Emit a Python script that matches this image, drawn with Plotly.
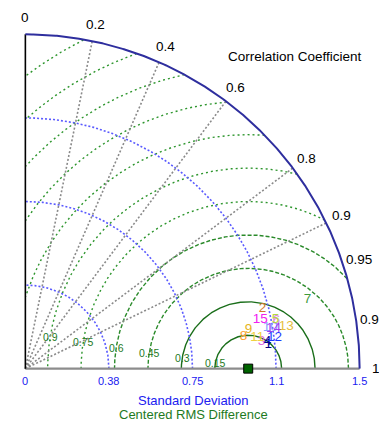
import numpy as np
import plotly.graph_objects as go

# ---------------- data ----------------
corr_ticks = [0, 0.2, 0.4, 0.6, 0.8, 0.9, 0.95, 0.99, 1]
corr_labels = ["0", "0.2", "0.4", "0.6", "0.8", "0.9", "0.95", "0.99", "1"]
corr_lines = [0.2, 0.4, 0.6, 0.8, 0.9]
std_ticks = [0, 0.375, 0.75, 1.125, 1.5]
std_labels = ["0", "0.38", "0.75", "1.1", "1.5"]
std_arcs = [0.375, 0.75, 1.125]
std_max = 1.5
rms_levels = [0.15, 0.3, 0.45, 0.6, 0.75, 0.9, 1.05, 1.2, 1.35, 1.5, 1.65, 1.8]
rms_labels = ["0.15", "0.3", "0.45", "0.6", "0.75", "0.9"]
ref_std = 1.0

model_names = ["1", "6", "10", "2", "3", "4", "5", "7", "8", "9", "11", "12", "13", "14", "15"]
model_std = [1.096, 1.147, 1.115, 1.098, 1.066, 1.093, 1.144, 1.303, 0.989, 1.016, 1.050, 1.126, 1.186, 1.128, 1.077]
model_corr = [0.995, 0.982, 0.986, 0.969, 0.9937, 0.994, 0.981, 0.9717, 0.9897, 0.9854, 0.9914, 0.9925, 0.9875, 0.987, 0.979]
model_colors = ["#000080", "#E080E0", "#8CA0FF", "#D2782D", "#E066E0", "#000099", "#B4D83C",
                "#3C9A3C", "#FFA030", "#E6B422", "#F0D040", "#1E3CFF", "#E6C040", "#A040F0", "#F020F0"]

FONT = "Liberation Sans, Arial, sans-serif"
XR = [-0.06, 1.56]
YR = [-0.06, 1.56]


def px(v):
    return (v - XR[0]) / (XR[1] - XR[0])


def py(v):
    return (v - YR[0]) / (YR[1] - YR[0])


fig = go.Figure()

# ---------------- RMS circles ----------------
th = np.linspace(0, np.pi, 1441)
for i, r in enumerate(rms_levels):
    x = ref_std + r * np.cos(th)
    y = r * np.sin(th)
    ok = (x >= 0) & (x ** 2 + y ** 2 <= std_max ** 2)
    xs = [float(a) if k else None for a, k in zip(x, ok)]
    ys = [float(b) if k else None for b, k in zip(y, ok)]
    if i < 2:
        dash, col = "solid", "#1A6E1A"
    elif i < 4:
        dash, col = "4px,2px", "#2A8A2A"
    else:
        dash, col = "2px,3px", "#2E962E"
    fig.add_trace(go.Scatter(x=xs, y=ys, mode="lines", line=dict(color=col, width=1.4, dash=dash),
                             hoverinfo="skip", showlegend=False))

# ---------------- std arcs ----------------
ta = np.linspace(0, np.pi / 2, 400)
for r in std_arcs:
    fig.add_trace(go.Scatter(x=r * np.cos(ta), y=r * np.sin(ta), mode="lines",
                             line=dict(color="#5A5AFF", width=1.6, dash="2px,2px"),
                             hoverinfo="skip", showlegend=False))

# ---------------- correlation rays ----------------
for c in corr_lines:
    a = np.arccos(c)
    fig.add_trace(go.Scatter(x=[0, std_max * np.cos(a)], y=[0, std_max * np.sin(a)], mode="lines",
                             line=dict(color="#8A8A8A", width=1.6, dash="2px,2px"),
                             hoverinfo="skip", showlegend=False))

# ---------------- axes ----------------
fig.add_trace(go.Scatter(x=[0, std_max], y=[0, 0], mode="lines", line=dict(color="#8C8C8C", width=2.2),
                         hoverinfo="skip", showlegend=False))
fig.add_trace(go.Scatter(x=[0, 0], y=[0, std_max], mode="lines", line=dict(color="#000000", width=1.6),
                         hoverinfo="skip", showlegend=False))
fig.add_trace(go.Scatter(x=std_max * np.cos(ta), y=std_max * np.sin(ta), mode="lines",
                         line=dict(color="#2E2E9E", width=2.0), hoverinfo="skip", showlegend=False))

# ---------------- reference point ----------------
fig.add_trace(go.Scatter(x=[ref_std], y=[0], mode="markers",
                         marker=dict(symbol="square", size=9, color="#006400", line=dict(color="#000000", width=1)),
                         cliponaxis=False, hoverinfo="skip", showlegend=False))

# ---------------- models ----------------
ang = np.arccos(np.array(model_corr))
mx = np.array(model_std) * np.cos(ang)
my = np.array(model_std) * np.sin(ang)
for n, x0, y0, col in zip(model_names, mx, my, model_colors):
    fig.add_trace(go.Scatter(x=[x0], y=[y0], mode="text", text=[n],
                             textfont=dict(family=FONT, size=13.5, color=col),
                             cliponaxis=False, hoverinfo="skip", showlegend=False))

# ---------------- labels ----------------
ann = []


def add(x, y, t, size, col):
    ann.append(dict(x=px(x), y=py(y), xref="paper", yref="paper", text=t, showarrow=False,
                    xanchor="center", yanchor="middle", font=dict(family=FONT, size=size, color=col)))


lab_r = 1.575
for c, t in zip(corr_ticks, corr_labels):
    a = np.arccos(c)
    add(lab_r * np.cos(a), lab_r * np.sin(a), t, 13.5, "#000000")
for v, t in zip(std_ticks, std_labels):
    add(v, -0.056, t, 11, "#2020F0")
lab_a = np.deg2rad(171)
for r, t in zip(rms_levels, rms_labels):
    add(ref_std + r * np.cos(lab_a), r * np.sin(lab_a), t, 10.5, "#1E7A1E")
add(1.212, 1.399, "Correlation Coefficient", 13.5, "#000000")
add(0.754, -0.141, "Standard Deviation", 13, "#2020F0")
add(0.754, -0.204, "Centered RMS Difference", 13, "#1E7A1E")

fig.update_layout(
    width=379, height=426,
    margin=dict(l=12, r=6, t=21, b=44, pad=0),
    paper_bgcolor="white", plot_bgcolor="white",
    xaxis=dict(range=XR, visible=False, fixedrange=True),
    yaxis=dict(range=YR, visible=False, fixedrange=True),
    annotations=ann,
    showlegend=False,
)
fig.write_html("out.html", config={"displayModeBar": False})
